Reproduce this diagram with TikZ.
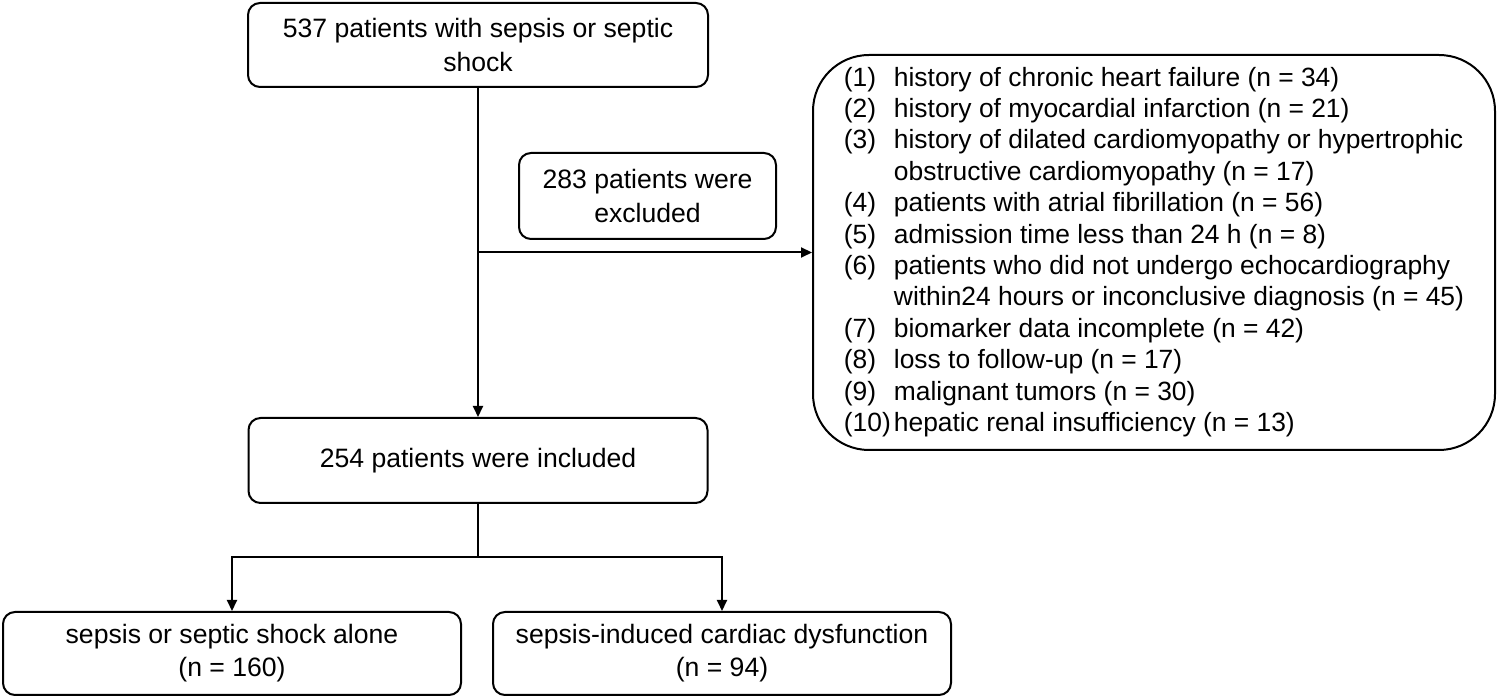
\documentclass[tikz,border=0pt]{standalone}
\usepackage{fontspec}
\setmainfont{Liberation Sans}
\usetikzlibrary{arrows.meta}
\begin{document}
\begin{tikzpicture}[x=0.5pt,y=-0.5pt,
  box/.style={draw, line width=1pt, rounded corners=6pt, align=center, inner sep=0pt,
    font=\fontsize{13.3}{16.6}\selectfont},
  conn/.style={line width=1pt},
  arr/.style={conn, -{Triangle[length=5.5pt,width=5pt]}}]
\useasboundingbox (0,0) rectangle (1500,699);
\node[box, minimum width=230pt, minimum height=42pt] (top) at (478,45) {537 patients with sepsis or septic\\shock};
\node[box, minimum width=128.5pt, minimum height=43pt] (excl) at (647.5,196) {283 patients were\\excluded};
\node[box, rounded corners=28pt, minimum width=341pt, minimum height=197.5pt] (list) at (1154,252.5) {%
  \fontsize{13.2}{15.7}\selectfont\renewcommand\arraystretch{1}%
  \begin{tabular}{@{}p{25pt}@{}l@{}}
  (1) & history of chronic heart failure (n = 34)\\
  (2) & history of myocardial infarction (n = 21)\\
  (3) & history of dilated cardiomyopathy or hypertrophic\\
      & obstructive cardiomyopathy (n = 17)\\
  (4) & patients with atrial fibrillation (n = 56)\\
  (5) & admission time less than 24 h (n = 8)\\
  (6) & patients who did not undergo echocardiography\\
      & within24 hours or inconclusive diagnosis (n = 45)\\
  (7) & biomarker data incomplete (n = 42)\\
  (8) & loss to follow-up (n = 17)\\
  (9) & malignant tumors (n = 30)\\
  (10)& hepatic renal insufficiency (n = 13)
  \end{tabular}};
\node[box, minimum width=229.5pt, minimum height=42.5pt] (incl) at (478,460.5) {254 patients were included};
\node[box, minimum width=229pt, minimum height=41.5pt] (lb) at (232,653.5) {sepsis or septic shock alone\\(n = 160)};
\node[box, minimum width=229pt, minimum height=41.5pt] (rb) at (722,653.5) {sepsis-induced cardiac dysfunction\\(n = 94)};
\coordinate (split) at (478,557);
\draw[arr] (top) -- (incl);
\draw[arr] (top.south |- list.west) -- (list.west);
\draw[conn] (incl.south) -- (split);
\draw[arr] (split) -| (lb.north);
\draw[arr] (split) -| (rb.north);
\end{tikzpicture}
\end{document}
